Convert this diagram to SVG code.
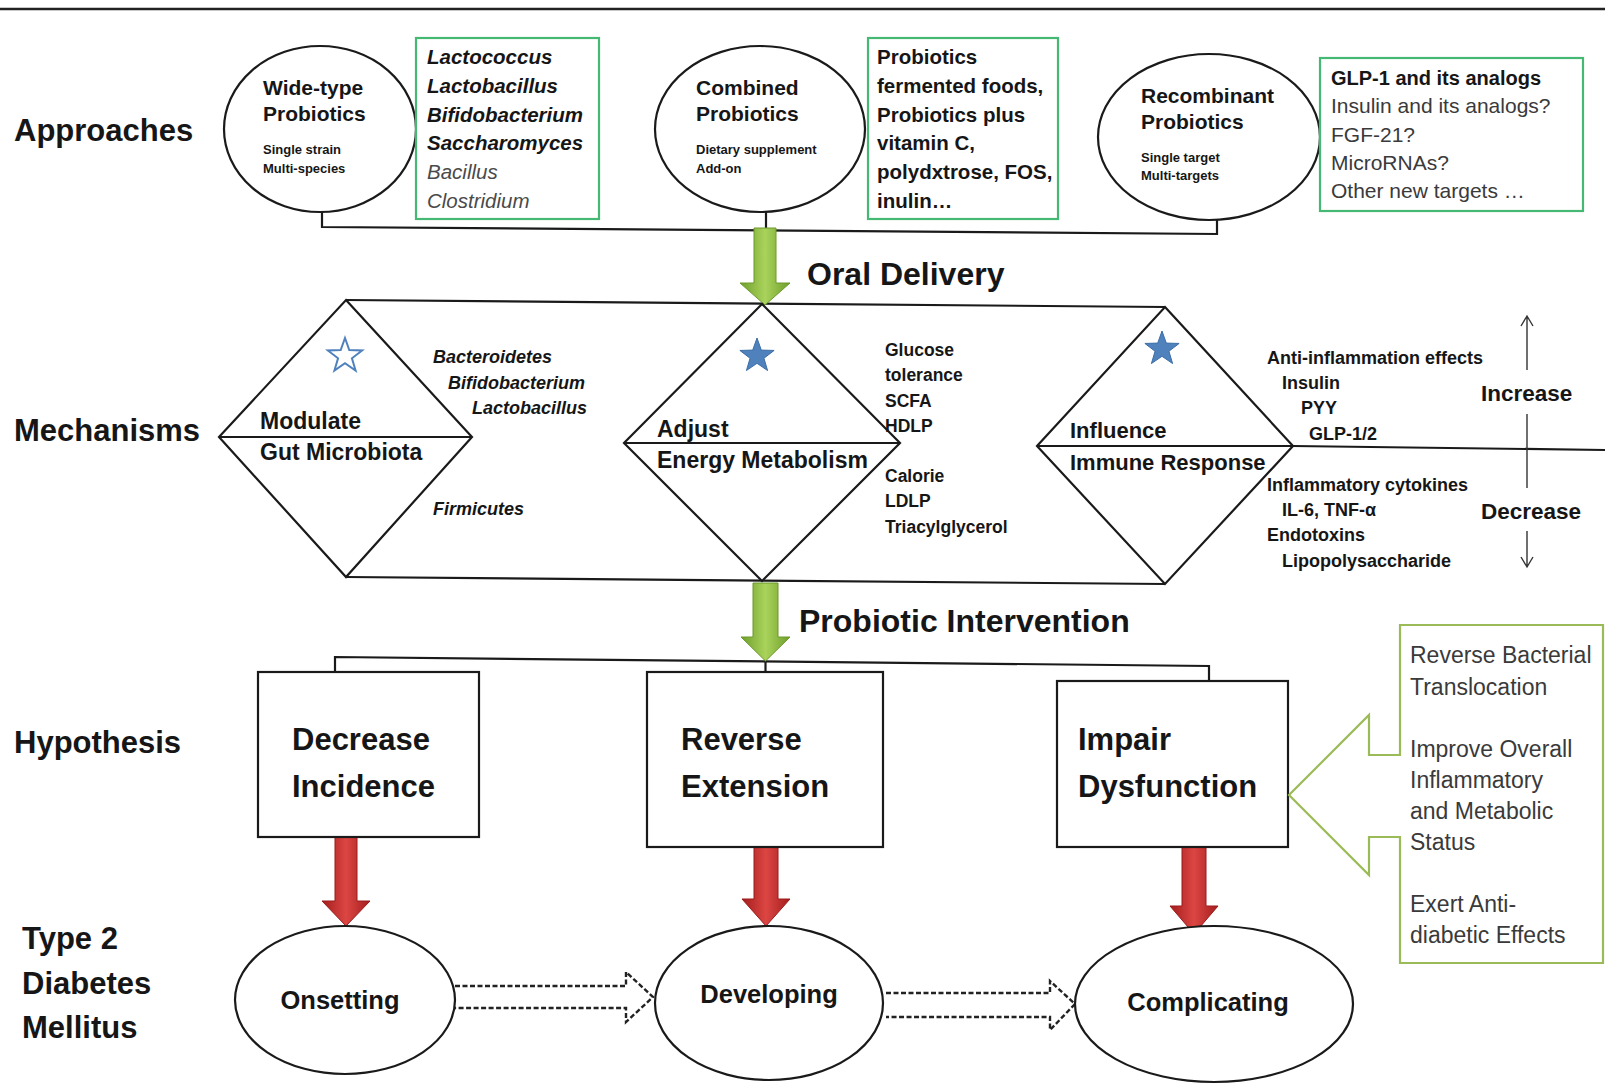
<svg xmlns="http://www.w3.org/2000/svg" width="1605" height="1086" viewBox="0 0 1605 1086">
<style>
text{font-family:"Liberation Sans",Arial,sans-serif;fill:#161616}
.row{font-size:31px;font-weight:bold}
.ct{font-size:21px;font-weight:bold}
.cs{font-size:13px;font-weight:bold}
.gb{font-size:20.5px;font-weight:bold}
.gi{font-size:20.5px;font-style:italic;fill:#4a4a4a}
.gr{font-size:21px;fill:#3a3a3a}
.dm{font-size:23px;font-weight:bold}
.mi{font-size:18px;font-weight:bold;font-style:italic}
.ms{font-size:17.5px;font-weight:bold}
.big{font-size:32px;font-weight:bold}
.hyp{font-size:31px;font-weight:bold}
.st{font-size:25.5px;font-weight:bold}
.cb{font-size:23px;fill:#3a3a3a}
.node{fill:#fff;stroke:#1a1a1a;stroke-width:2.2}
.gbox{fill:#fff;stroke:#45b874;stroke-width:2.2}
.ln{fill:none;stroke:#1a1a1a;stroke-width:2.2}
.thin{fill:none;stroke:#333;stroke-width:1.4}
.dash{fill:none;stroke:#222;stroke-width:2.4;stroke-dasharray:5 2.5}
</style>
<defs>
<linearGradient id="gG" x1="0" y1="0" x2="1" y2="0">
<stop offset="0" stop-color="#6f9e2c"/><stop offset="0.5" stop-color="#a9d35b"/><stop offset="1" stop-color="#6f9e2c"/>
</linearGradient>
<linearGradient id="gR" x1="0" y1="0" x2="1" y2="0">
<stop offset="0" stop-color="#a31d1d"/><stop offset="0.5" stop-color="#dc4643"/><stop offset="1" stop-color="#a31d1d"/>
</linearGradient>
<path id="star" d="M0,-18 L4.29,-5.91 L17.12,-5.56 L6.94,2.26 L10.58,14.56 L0,7.3 L-10.58,14.56 L-6.94,2.26 L-17.12,-5.56 L-4.29,-5.91 Z"/>
</defs>

<line x1="0" y1="9" x2="1605" y2="9" stroke="#222" stroke-width="2.5"/>

<g id="row-labels">
<text class="row" x="14" y="141">Approaches</text>
<text class="row" x="14" y="441">Mechanisms</text>
<text class="row" x="14" y="753">Hypothesis</text>
<text class="row" x="22" y="949">Type 2</text>
<text class="row" x="22" y="994">Diabetes</text>
<text class="row" x="22" y="1038">Mellitus</text>
</g>

<g id="connectors">
<polyline class="ln" points="322,212 322,227 1217,234 1217,220"/>
<line class="ln" x1="766" y1="212" x2="766" y2="231"/>
<line class="ln" x1="346" y1="300" x2="1165" y2="307"/>
<line class="ln" x1="346" y1="577" x2="1165" y2="584"/>
<line class="ln" x1="1293" y1="446" x2="1605" y2="450"/>
<polyline class="ln" points="335,672 335,657 1209,666 1209,681"/>
<line class="ln" x1="765.5" y1="660" x2="765.5" y2="672"/>
<path d="M754,228 H776 V283 H790 L765,305 L740,283 H754 Z" fill="url(#gG)" stroke="#6a9a2a" stroke-width="1"/>
<path d="M753,583 H778 V637 H790 L765.5,661 L741,637 H753 Z" fill="url(#gG)" stroke="#6a9a2a" stroke-width="1"/>
<path d="M335,837 H357 V901 H370 L346,926 L322,901 H335 Z" fill="url(#gR)" stroke="#9a1b1b" stroke-width="1"/>
<path d="M754,847 H778 V899 H790 L766,926 L742,899 H754 Z" fill="url(#gR)" stroke="#9a1b1b" stroke-width="1"/>
<path d="M1182,847 H1206 V906 H1218 L1194,934 L1170,906 H1182 Z" fill="url(#gR)" stroke="#9a1b1b" stroke-width="1"/>
<path class="dash" d="M455,986 L626,986 L626,972 L653,997 L626,1022 L626,1008 L455,1008"/>
<path class="dash" d="M886,993 L1050,993 L1050,981 L1075,1004 L1050,1030 L1050,1017 L886,1017"/>
<path class="thin" d="M1527,370 V316 M1521,326 L1527,316 L1533,326"/>
<path class="thin" d="M1527,414 V488"/>
<path class="thin" d="M1527,531 V567 M1521,557 L1527,567 L1533,557"/>
</g>

<g id="n-widetype">
<ellipse class="node" cx="320" cy="129" rx="96" ry="83"/>
<text class="ct" x="263" y="95">Wide-type</text>
<text class="ct" x="263" y="121">Probiotics</text>
<text class="cs" x="263" y="154">Single strain</text>
<text class="cs" x="263" y="173">Multi-species</text>
</g>
<g id="n-genera">
<rect class="gbox" x="416" y="38" width="183" height="181"/>
<text class="gb" x="427" y="64"><tspan font-style="italic">Lactococcus</tspan></text>
<text class="gb" x="427" y="93"><tspan font-style="italic">Lactobacillus</tspan></text>
<text class="gb" x="427" y="122"><tspan font-style="italic">Bifidobacterium</tspan></text>
<text class="gb" x="427" y="150"><tspan font-style="italic">Saccharomyces</tspan></text>
<text class="gi" x="427" y="179">Bacillus</text>
<text class="gi" x="427" y="208">Clostridium</text>
</g>
<g id="n-combined">
<ellipse class="node" cx="760" cy="129" rx="105" ry="83"/>
<text class="ct" x="696" y="95">Combined</text>
<text class="ct" x="696" y="121">Probiotics</text>
<text class="cs" x="696" y="154">Dietary supplement</text>
<text class="cs" x="696" y="173">Add-on</text>
</g>
<g id="n-combos">
<rect class="gbox" x="868" y="38" width="190" height="181"/>
<text class="gb" x="877" y="64">Probiotics</text>
<text class="gb" x="877" y="93">fermented foods,</text>
<text class="gb" x="877" y="122">Probiotics plus</text>
<text class="gb" x="877" y="150">vitamin C,</text>
<text class="gb" x="877" y="179">polydxtrose, FOS,</text>
<text class="gb" x="877" y="208">inulin…</text>
</g>
<g id="n-recombinant">
<ellipse class="node" cx="1209" cy="137" rx="111" ry="83"/>
<text class="ct" x="1141" y="103">Recombinant</text>
<text class="ct" x="1141" y="129">Probiotics</text>
<text class="cs" x="1141" y="162">Single target</text>
<text class="cs" x="1141" y="180">Multi-targets</text>
</g>
<g id="n-targets">
<rect class="gbox" x="1320" y="58" width="263" height="153"/>
<text class="gb" x="1331" y="85" style="font-size:20px">GLP-1 and its analogs</text>
<text class="gr" x="1331" y="113">Insulin and its analogs?</text>
<text class="gr" x="1331" y="142">FGF-21?</text>
<text class="gr" x="1331" y="170">MicroRNAs?</text>
<text class="gr" x="1331" y="198">Other new targets …</text>
</g>

<g id="oral-label"><text class="big" x="807" y="285">Oral Delivery</text></g>

<g id="n-modulate">
<path class="node" d="M346,300 L472,437 L346,577 L219,437 Z"/>
<line class="ln" x1="219" y1="437" x2="472" y2="437"/>
<use href="#star" x="345" y="356" fill="#fff" stroke="#4f81bd" stroke-width="2"/>
<text class="dm" x="260" y="429">Modulate</text>
<text class="dm" x="260" y="460">Gut Microbiota</text>
<text class="mi" x="433" y="363">Bacteroidetes</text>
<text class="mi" x="448" y="389">Bifidobacterium</text>
<text class="mi" x="472" y="414">Lactobacillus</text>
<text class="mi" x="433" y="515">Firmicutes</text>
</g>
<g id="n-adjust">
<path class="node" d="M762,304 L900,443 L762,581 L624,443 Z"/>
<line class="ln" x1="624" y1="443" x2="900" y2="443"/>
<use href="#star" x="757" y="356" fill="#4f81bd" stroke="#3b6ea5" stroke-width="1"/>
<text class="dm" x="657" y="437">Adjust</text>
<text class="dm" x="657" y="468">Energy Metabolism</text>
<text class="ms" x="885" y="356">Glucose</text>
<text class="ms" x="885" y="381">tolerance</text>
<text class="ms" x="885" y="407">SCFA</text>
<text class="ms" x="885" y="432">HDLP</text>
<text class="ms" x="885" y="482">Calorie</text>
<text class="ms" x="885" y="507">LDLP</text>
<text class="ms" x="885" y="533">Triacylglycerol</text>
</g>
<g id="n-influence">
<path class="node" d="M1165,307 L1293,446 L1165,584 L1037,446 Z"/>
<line class="ln" x1="1037" y1="446" x2="1293" y2="446"/>
<use href="#star" x="1162" y="349" fill="#4f81bd" stroke="#3b6ea5" stroke-width="1"/>
<text class="dm" x="1070" y="438" style="font-size:22px">Influence</text>
<text class="dm" x="1070" y="470" style="font-size:22px">Immune Response</text>
<text class="ms" x="1267" y="364" style="font-size:18px">Anti-inflammation effects</text>
<text class="ms" x="1282" y="389" style="font-size:18px">Insulin</text>
<text class="ms" x="1301" y="414" style="font-size:18px">PYY</text>
<text class="ms" x="1309" y="440" style="font-size:18px">GLP-1/2</text>
<text class="ms" x="1267" y="491" style="font-size:18px">Inflammatory cytokines</text>
<text class="ms" x="1282" y="516" style="font-size:18px">IL-6, TNF-α</text>
<text class="ms" x="1267" y="541" style="font-size:18px">Endotoxins</text>
<text class="ms" x="1282" y="567" style="font-size:18px">Lipopolysaccharide</text>
<text class="dm" x="1481" y="401" style="font-size:22.5px">Increase</text>
<text class="dm" x="1481" y="519" style="font-size:22.5px">Decrease</text>
</g>

<g id="interv-label"><text class="big" x="799" y="632">Probiotic Intervention</text></g>

<g id="n-decrease">
<rect class="node" x="258" y="672" width="221" height="165"/>
<text class="hyp" x="292" y="750">Decrease</text>
<text class="hyp" x="292" y="797">Incidence</text>
</g>
<g id="n-reverse">
<rect class="node" x="647" y="672" width="236" height="175"/>
<text class="hyp" x="681" y="750">Reverse</text>
<text class="hyp" x="681" y="797">Extension</text>
</g>
<g id="n-impair">
<rect class="node" x="1057" y="681" width="231" height="166"/>
<text class="hyp" x="1078" y="750">Impair</text>
<text class="hyp" x="1078" y="797">Dysfunction</text>
</g>
<g id="n-effects">
<path d="M1400,625 H1603 V963 H1400 V837 H1369 V875 L1289,795 L1369,715 V755 H1400 Z" fill="#fff" stroke="#9bbb59" stroke-width="2.2"/>
<text class="cb" x="1410" y="663">Reverse Bacterial</text>
<text class="cb" x="1410" y="695">Translocation</text>
<text class="cb" x="1410" y="757">Improve Overall</text>
<text class="cb" x="1410" y="788">Inflammatory</text>
<text class="cb" x="1410" y="819">and Metabolic</text>
<text class="cb" x="1410" y="850">Status</text>
<text class="cb" x="1410" y="912">Exert Anti-</text>
<text class="cb" x="1410" y="943">diabetic Effects</text>
</g>

<g id="n-onsetting">
<ellipse class="node" cx="345" cy="1000" rx="110" ry="74"/>
<text class="st" x="340" y="1009" text-anchor="middle">Onsetting</text>
</g>
<g id="n-developing">
<ellipse class="node" cx="769" cy="1003" rx="114" ry="77"/>
<text class="st" x="769" y="1003" text-anchor="middle">Developing</text>
</g>
<g id="n-complicating">
<ellipse class="node" cx="1214" cy="1004" rx="139" ry="78"/>
<text class="st" x="1208" y="1011" text-anchor="middle">Complicating</text>
</g>
</svg>
